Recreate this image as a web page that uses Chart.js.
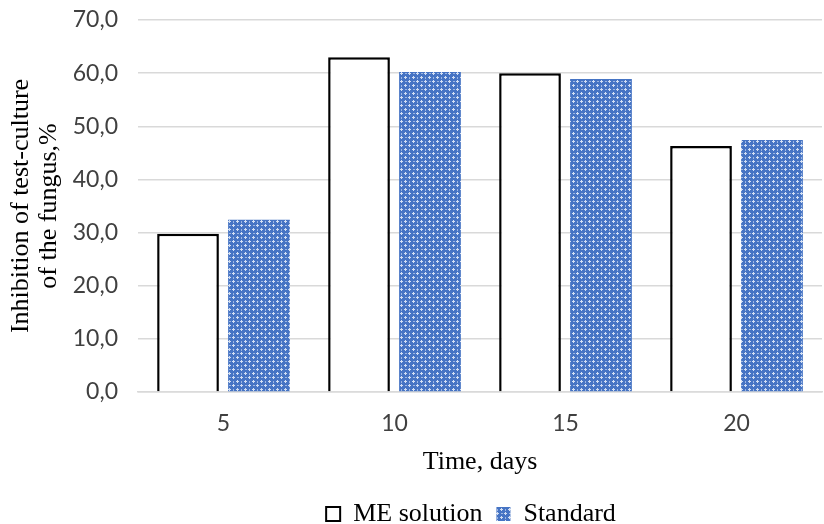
<!DOCTYPE html>
<html>
<head>
<meta charset="utf-8">
<script src="https://cdn.jsdelivr.net/npm/chart.js@4.4.1/dist/chart.umd.min.js"></script>
<style>
  html, body { margin: 0; padding: 0; background: #fff; }
  #wrap { width: 824px; height: 524px; }
</style>
</head>
<body>
<div id="wrap"><canvas id="c" width="824" height="524"></canvas></div>
<script>
// Data
const days = ['5', '10', '15', '20'];
const meSolution = [29.8, 63.0, 60.0, 46.3];
const standard = [32.4, 60.2, 58.9, 47.4];
const yTicks = [0, 10, 20, 30, 40, 50, 60, 70];

const serif = '"Liberation Serif", "Times New Roman", serif';
const sans = 'Lato, "Open Sans", sans-serif';

// Blue lattice fill like the Excel pattern (light crosses on blue)
function makePattern() {
  const t = document.createElement('canvas');
  t.width = 8; t.height = 8;
  const g = t.getContext('2d');
  g.fillStyle = '#4674c4';
  g.fillRect(0, 0, 8, 8);
  g.fillStyle = '#d3dff3';
  for (const o of [0, 4]) {
    g.fillRect(o, o === 0 ? 1 : 5, 3, 1);
    g.fillRect(o + 1, o, 1, 3);
  }
  g.fillStyle = '#9db6e2';
  g.fillRect(5, 1, 2, 1);
  g.fillRect(1, 5, 1, 2);
  return g.createPattern(t, 'repeat');
}
const pat = makePattern();

const fmt = v => v.toFixed(1).replace('.', ',');

// move the legend lower and a bit right, where the original has it
const legendShift = {
  id: 'legendShift',
  afterLayout(chart) {
    const lg = chart.legend;
    if (!lg) return;
    lg.top += 13; lg.bottom += 13;
    lg.left += 60; lg.right += 60;
  }
};

new Chart(document.getElementById('c'), {
  type: 'bar',
  data: {
    labels: days,
    datasets: [
      { label: 'ME solution', data: meSolution, backgroundColor: '#ffffff', borderColor: '#000000', borderWidth: 2.5 },
      { label: 'Standard', data: standard, backgroundColor: pat, borderWidth: 0 },
    ]
  },
  plugins: [legendShift],
  options: {
    responsive: false,
    animation: false,
    devicePixelRatio: 1,
    datasets: { bar: { categoryPercentage: 0.83, barPercentage: 0.87 } },
    layout: { padding: { left: 0, right: 2, top: 20, bottom: 0 } },
    plugins: {
      tooltip: { enabled: false },
      legend: {
        position: 'bottom',
        labels: {
          color: '#000',
          font: { family: serif, size: 26 },
          boxWidth: 14, boxHeight: 14, padding: 14,
          generateLabels: chart => chart.data.datasets.map((ds, i) => ({
            text: ds.label,
            fillStyle: ds.backgroundColor,
            strokeStyle: i === 0 ? '#000' : 'transparent',
            lineWidth: i === 0 ? 2 : 0,
            datasetIndex: i,
          })),
        },
      },
    },
    scales: {
      x: {
        afterFit: axis => { axis.height = 82; },
        grid: { display: false, drawTicks: false },
        border: { color: '#d9d9d9', width: 1.5 },
        ticks: { color: '#404040', font: { family: sans, size: 23 }, padding: 18 },
        title: { display: true, text: 'Time, days', color: '#000', font: { family: serif, size: 26, lineHeight: 0.9 }, padding: { top: 0, bottom: 0 } },
      },
      y: {
        min: 0, max: 70,
        afterFit: axis => { axis.width = 138; axis.paddingTop = 0; axis.paddingBottom = 0; },
        afterBuildTicks: axis => { axis.ticks = yTicks.map(v => ({ value: v })); },
        grid: { color: '#d9d9d9', drawTicks: false, lineWidth: 1.5 },
        border: { display: false },
        ticks: { color: '#404040', font: { family: sans, size: 23 }, padding: 20, callback: v => fmt(v) },
        title: { display: true, text: ['Inhibition of test-culture', 'of the fungus,%'], color: '#000', font: { family: serif, size: 26, lineHeight: 1.05 }, padding: { top: 8, bottom: 4 } },
      },
    },
  },
});
</script>
</body>
</html>
